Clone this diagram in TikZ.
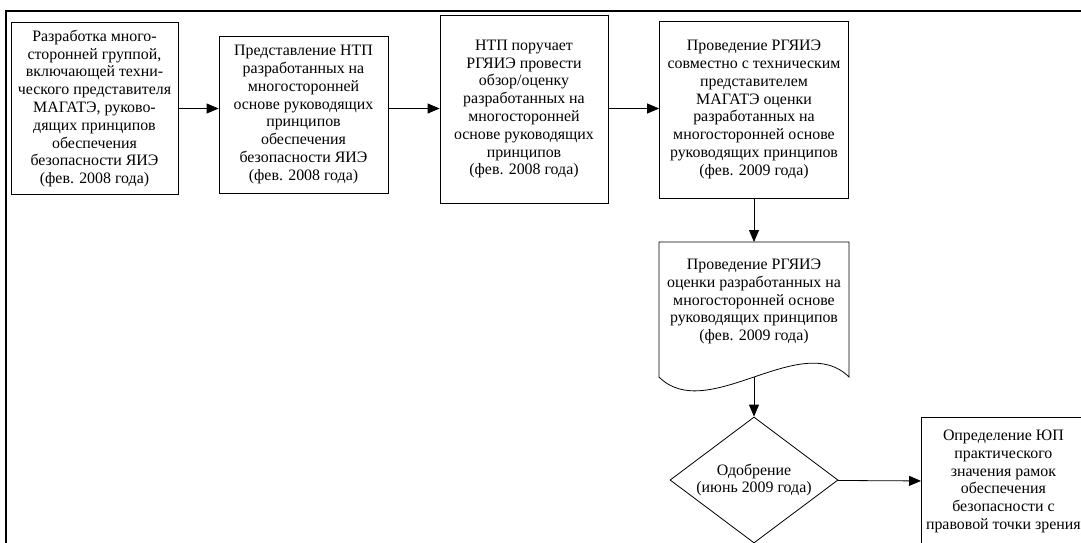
\documentclass[tikz,border=0pt]{standalone}
\usepackage{fontspec}
\setmainfont{Liberation Serif}
\usetikzlibrary{arrows.meta, shapes.geometric}

\begin{document}
\begin{tikzpicture}[x=1pt, y=-1pt,
  every node/.style={font=\fontsize{15.9}{17.8}\selectfont, align=center, inner sep=0pt},
  stage/.style={draw, line width=.8pt, rectangle},
  flow/.style={line width=.8pt, -{Triangle[length=12pt, width=10pt]}}]
\useasboundingbox (0, 0) rectangle (1081, 542);
\clip (0, 0) rectangle (1081, 542);
% outer frame
\draw [line width=1.6pt] (6, 560) -- (6, 11) -- (1090, 11);
\node at (94.5, 108.5) [name=dev, stage, minimum width=167, minimum height=172]
  {Разработка много-\\сторонней группой,\\включающей техни-\\ческого представителя\\МАГАТЭ, руково-\\дящих принципов\\обеспечения\\безопасности ЯИЭ\\(фев. 2008 года)};
\node at (303.5, 114.5) [name=pres, stage, minimum width=169, minimum height=157]
  {Представление НТП\\разработанных на\\многосторонней\\основе руководящих\\принципов\\обеспечения\\безопасности ЯИЭ\\(фев. 2008 года)};
\node at (524, 109) [name=task, stage, minimum width=168, minimum height=188]
  {НТП поручает\\РГЯИЭ провести\\обзор/оценку\\разработанных на\\многосторонней\\основе руководящих\\принципов\\(фев. 2008 года)};
\node at (754, 109.5) [name=joint, stage, minimum width=189, minimum height=177]
  {Проведение РГЯИЭ\\совместно с техническим\\представителем\\МАГАТЭ оценки\\разработанных на\\многосторонней основе\\руководящих принципов\\(фев. 2009 года)};
% document shape
\coordinate (docT) at (754, 242);
\coordinate (docB) at (754, 377);
\draw [line width=.8pt] (659, 377) -- (659, 242) -- (849, 242) -- (849, 377)
  .. controls (801, 329) and (707, 425) .. (659, 377);
\node at (754, 301.5) [name=eval]
  {Проведение РГЯИЭ\\оценки разработанных на\\многосторонней основе\\руководящих принципов\\(фев. 2009 года)};
\node at (754, 480) [name=appr, draw, line width=.8pt, diamond, shape aspect=1.33,
  minimum width=168, minimum height=126] {Одобрение\\(июнь 2009 года)};
\node at (921, 417) [name=legal, stage, anchor=north west, minimum width=164, minimum height=128]
  {Определение ЮП\\практического\\значения рамок\\обеспечения\\безопасности с\\правовой точки зрения};
\draw [flow] (dev.east) -- (dev.east -| pres.west);
\draw [flow] (dev.east -| pres.east) -- (dev.east -| task.west);
\draw [flow] (dev.east -| task.east) -- (dev.east -| joint.west);
\draw [flow] (joint) -- (docT);
\draw [flow] (docB) -- (appr);
\draw [flow] (appr) -- (legal);
\end{tikzpicture}
\end{document}
